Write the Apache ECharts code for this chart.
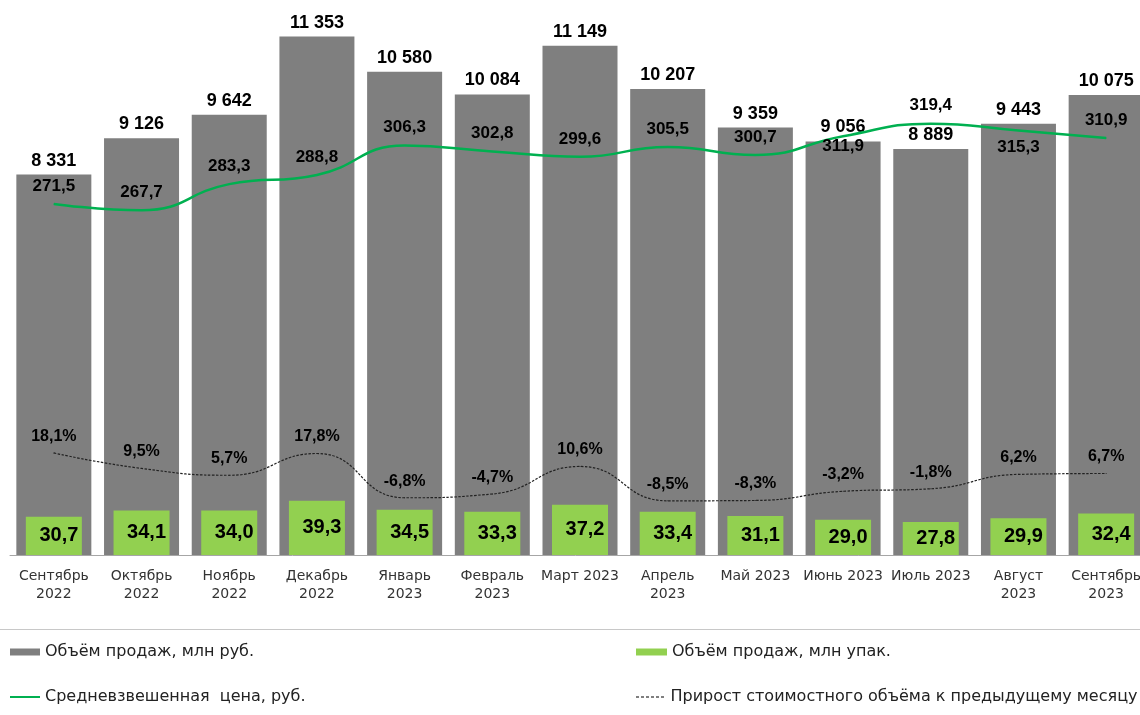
<!DOCTYPE html>
<html>
<head>
<meta charset="utf-8">
<script src="https://cdn.jsdelivr.net/npm/echarts@6/dist/echarts.min.js"></script>
<style>html,body{margin:0;padding:0;background:#fff}#c{width:1140px;height:715px}</style>
</head>
<body>
<div id="c"></div>
<script>
const categories = ['Сентябрь\n2022','Октябрь\n2022','Ноябрь\n2022','Декабрь\n2022','Январь\n2023','Февраль\n2023','Март 2023','Апрель\n2023','Май 2023','Июнь 2023','Июль 2023','Август\n2023','Сентябрь\n2023'];
const salesRub = [8331, 9126, 9642, 11353, 10580, 10084, 11149, 10207, 9359, 9056, 8889, 9443, 10075];
const salesPacks = [30.7, 34.1, 34.0, 39.3, 34.5, 33.3, 37.2, 33.4, 31.1, 29.0, 27.8, 29.9, 32.4];
const avgPrice = [271.5, 267.7, 283.3, 288.8, 306.3, 302.8, 299.6, 305.5, 300.7, 311.9, 319.4, 315.3, 310.9];
const growth = [18.1, 9.5, 5.7, 17.8, -6.8, -4.7, 10.6, -8.5, -8.3, -3.2, -1.8, 6.2, 6.7];
const seriesNames = ['Объём продаж, млн руб.', 'Объём продаж, млн упак.', 'Средневзвешенная  цена, руб.', 'Прирост стоимостного объёма к предыдущему месяцу'];

const priceBelow = {9: 1, 11: 8};
const fmt1 = v => v.toFixed(1).replace('.', ',');
const fmtThousands = v => String(v).replace(/\B(?=(\d{3})+(?!\d))/g, ' ');

const chart = echarts.init(document.getElementById('c'), null, {renderer: 'canvas'});
const lblFont = 'Liberation Sans, Arial, sans-serif';
const txtFont = 'DejaVu Sans, Verdana, sans-serif';

const priceData = avgPrice.map((v, i) => {
  if (priceBelow[i] !== undefined) {
    return {value: v, label: {position: 'bottom', distance: priceBelow[i]}};
  }
  return v;
});

const dashIcon = 'path://M0,0h3v1h-3z M5,0h3v1h-3z M10,0h3v1h-3z M15,0h3v1h-3z M20,0h3v1h-3z M25,0h3v1h-3z';
const legendText = {fontFamily: txtFont, fontSize: 16, color: '#222'};

chart.setOption({
  animation: false,
  grid: {left: 10, top: 7, width: 1140, height: 548, containLabel: false, outerBoundsMode: 'none'},
  xAxis: [{
    type: 'category', data: categories,
    axisLine: {lineStyle: {color: '#a6a6a6', width: 1}},
    axisTick: {length: 7, lineStyle: {color: '#a6a6a6'}},
    axisLabel: {interval: 0, fontFamily: txtFont, fontSize: 14, color: '#333', lineHeight: 18, margin: 12}
  }, {
    type: 'category', data: categories, show: false
  }],
  yAxis: [
    {type: 'value', min: 0, max: 12000, show: false, splitLine: {show: false}},
    {type: 'value', min: 10, max: 306, show: false, splitLine: {show: false}},
    {type: 'value', min: 62, max: 389, show: false, splitLine: {show: false}},
    {type: 'value', min: -38.6, max: 265.9, show: false, splitLine: {show: false}}
  ],
  legend: [
    {data: [seriesNames[0]], left: 10, top: 644, padding: 0, itemWidth: 30, itemHeight: 7, icon: 'rect', textStyle: legendText},
    {data: [seriesNames[2]], left: 10, top: 689, padding: 0, itemWidth: 30, itemHeight: 2, icon: 'rect', textStyle: legendText},
    {data: [seriesNames[1]], left: 636, top: 644, padding: 0, itemWidth: 31, itemHeight: 7, icon: 'rect', textStyle: legendText},
    {data: [{name: seriesNames[3], icon: dashIcon, itemStyle: {color: '#000'}}], left: 636, top: 689, padding: 0, itemWidth: 31, itemHeight: 1, textStyle: legendText}
  ],
  graphic: [{type: 'line', shape: {x1: 0, y1: 629.5, x2: 1140, y2: 629.5}, style: {stroke: '#c8c8c8', lineWidth: 1}, silent: true}],
  series: [
    {
      name: seriesNames[0], type: 'bar', data: salesRub, xAxisIndex: 0, yAxisIndex: 0,
      barWidth: 75, itemStyle: {color: '#7f7f7f'}, z: 1,
      label: {show: true, position: 'top', distance: 5, formatter: p => fmtThousands(p.value),
              fontFamily: lblFont, fontWeight: 'bold', fontSize: 18, color: '#000'}
    },
    {
      name: seriesNames[1], type: 'bar', data: salesPacks, xAxisIndex: 1, yAxisIndex: 1,
      barWidth: 56, itemStyle: {color: '#92d050'}, z: 2,
      label: {show: true, position: 'inside', offset: [5, 0], formatter: p => fmt1(p.value),
              fontFamily: lblFont, fontWeight: 'bold', fontSize: 20, color: '#000'}
    },
    {
      name: seriesNames[2], type: 'line', data: priceData, xAxisIndex: 0, yAxisIndex: 2,
      smooth: 0.5, symbol: 'circle', symbolSize: 1, z: 4,
      lineStyle: {color: '#00b050', width: 2.5}, itemStyle: {color: '#00b050'},
      label: {show: true, position: 'top', distance: 9, formatter: p => fmt1(p.value),
              fontFamily: lblFont, fontWeight: 'bold', fontSize: 17, color: '#000'}
    },
    {
      name: seriesNames[3], type: 'line', data: growth, xAxisIndex: 0, yAxisIndex: 3,
      smooth: 0.5, symbol: 'circle', symbolSize: 1, z: 4,
      lineStyle: {color: '#222', width: 1.2, type: [2.5, 1.5]}, itemStyle: {color: '#222'},
      label: {show: true, position: 'top', distance: 8, formatter: p => fmt1(p.value) + '%',
              fontFamily: lblFont, fontWeight: 'bold', fontSize: 16, color: '#000'}
    }
  ]
});
</script>
</body>
</html>
